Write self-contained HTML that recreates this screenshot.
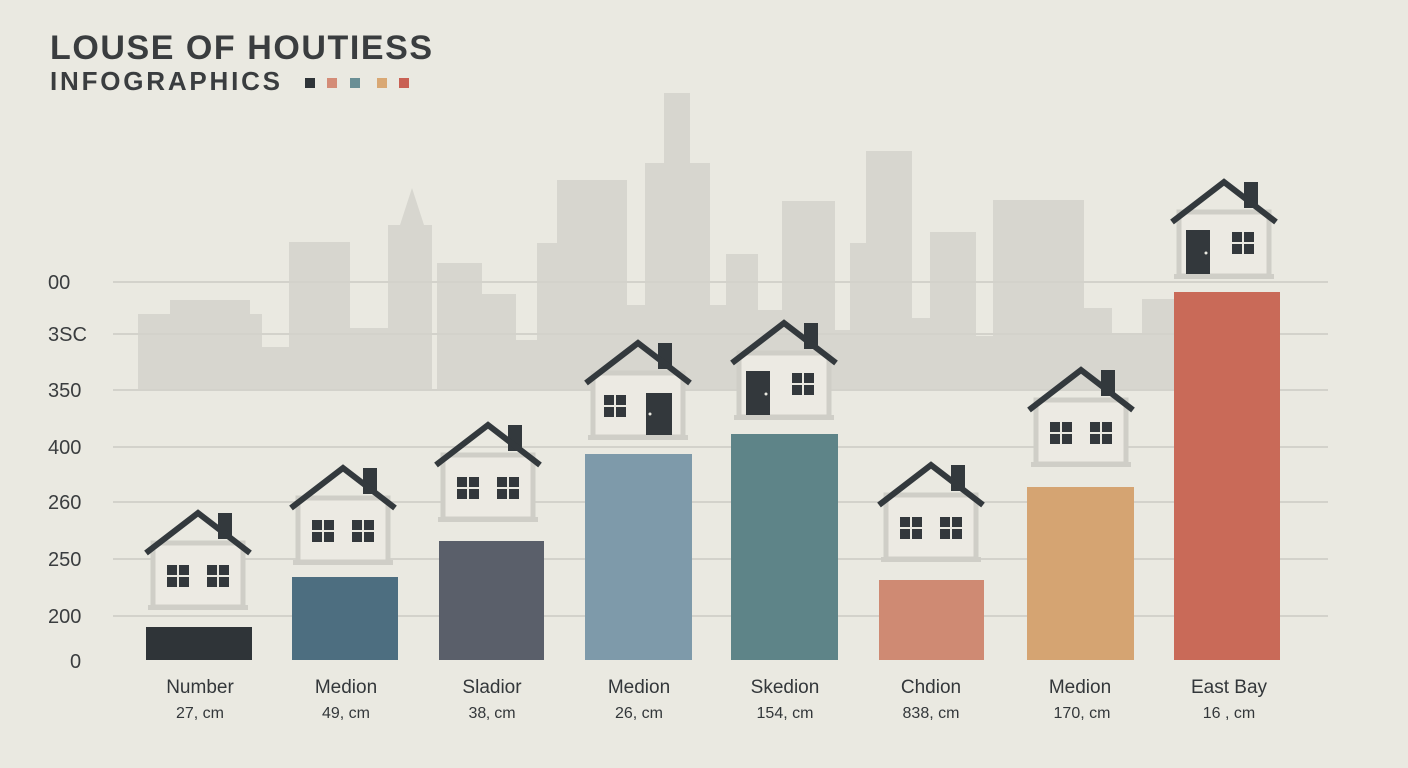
<!DOCTYPE html>
<html><head><meta charset="utf-8"><style>
html,body{margin:0;padding:0;background:#eae9e1;}
svg{display:block;font-family:"Liberation Sans",sans-serif;}
</style></head><body>
<svg width="1408" height="768" viewBox="0 0 1408 768">
<defs>
<g id="win"><rect x="0" y="0" width="22" height="22" fill="#33383c"/><rect x="10" y="0" width="2" height="22" fill="#eae9e1"/><rect x="0" y="10" width="22" height="2" fill="#eae9e1"/></g>
<g id="hbase">
<rect x="-45" y="32" width="90" height="64" fill="#eceae3" stroke="#cfcec7" stroke-width="5"/>
<rect x="-50" y="94" width="100" height="5" fill="#cfcec7"/>
<rect x="20" y="2" width="14" height="26" fill="#33393d"/>
<polyline points="-52,42 0,2 52,42" fill="none" stroke="#33393d" stroke-width="6"/>
</g>
<g id="h2"><use href="#hbase"/><use href="#win" x="-31" y="54"/><use href="#win" x="9" y="54"/></g>
<g id="hdl"><use href="#hbase"/><rect x="-38" y="50" width="24" height="44" fill="#33383c"/><circle cx="-18" cy="73" r="1.5" fill="#eae9e1"/><use href="#win" x="8" y="52"/></g>
<g id="hwd"><use href="#hbase"/><use href="#win" x="-34" y="54"/><rect x="8" y="52" width="26" height="42" fill="#33383c"/><circle cx="12" cy="73" r="1.5" fill="#eae9e1"/></g>
</defs>
<rect width="1408" height="768" fill="#eae9e1"/>
<g fill="#d7d6cf">
<rect x="138" y="314" width="124" height="76"/><rect x="170" y="300" width="80" height="20"/>
<rect x="262" y="347" width="28" height="43"/><rect x="289" y="242" width="61" height="148"/>
<rect x="350" y="328" width="40" height="62"/><rect x="388" y="225" width="44" height="165"/>
<polygon points="400,225 412,188 424,225"/><rect x="437" y="263" width="45" height="127"/>
<rect x="482" y="294" width="34" height="96"/><rect x="516" y="340" width="21" height="50"/>
<rect x="537" y="243" width="20" height="147"/><rect x="557" y="180" width="70" height="210"/>
<rect x="627" y="305" width="18" height="85"/><rect x="645" y="163" width="65" height="227"/>
<rect x="664" y="93" width="26" height="80"/><rect x="710" y="305" width="16" height="85"/>
<rect x="726" y="254" width="32" height="136"/><rect x="758" y="310" width="24" height="80"/>
<rect x="782" y="201" width="53" height="189"/><rect x="835" y="330" width="15" height="60"/>
<rect x="850" y="243" width="16" height="147"/><rect x="866" y="151" width="46" height="239"/>
<rect x="912" y="318" width="18" height="72"/><rect x="930" y="232" width="46" height="158"/>
<rect x="976" y="336" width="17" height="54"/><rect x="993" y="200" width="91" height="190"/>
<rect x="1084" y="308" width="28" height="82"/><rect x="1112" y="334" width="30" height="56"/>
<rect x="1142" y="299" width="33" height="91"/>
</g>
<g stroke="#d3d2cb" stroke-width="2">
<line x1="113" y1="282" x2="1328" y2="282"/><line x1="113" y1="334" x2="1328" y2="334"/>
<line x1="113" y1="390" x2="1328" y2="390"/><line x1="113" y1="447" x2="1328" y2="447"/>
<line x1="113" y1="502" x2="1328" y2="502"/><line x1="113" y1="559" x2="1328" y2="559"/>
<line x1="113" y1="616" x2="1328" y2="616"/>
</g>
<g font-size="20" fill="#3a3d3f">
<text x="48" y="289">00</text><text x="48" y="341">3SC</text><text x="48" y="397">350</text>
<text x="48" y="454">400</text><text x="48" y="509">260</text><text x="48" y="566">250</text>
<text x="48" y="623">200</text><text x="70" y="668">0</text>
</g>
<rect x="146" y="627" width="106" height="33" fill="#2f3438"/>
<rect x="292" y="577" width="106" height="83" fill="#4d6e80"/>
<rect x="439" y="541" width="105" height="119" fill="#5a5f6a"/>
<rect x="585" y="454" width="107" height="206" fill="#7e9aaa"/>
<rect x="731" y="434" width="107" height="226" fill="#5e8488"/>
<rect x="879" y="580" width="105" height="80" fill="#cf8a73"/>
<rect x="1027" y="487" width="107" height="173" fill="#d5a472"/>
<rect x="1174" y="292" width="106" height="368" fill="#c96a58"/>
<use href="#h2" x="198" y="511"/>
<use href="#h2" x="343" y="466"/>
<use href="#h2" x="488" y="423"/>
<use href="#hwd" x="638" y="341"/>
<use href="#hdl" x="784" y="321"/>
<use href="#h2" x="931" y="463"/>
<use href="#h2" x="1081" y="368"/>
<use href="#hdl" x="1224" y="180"/>
<g font-size="19" fill="#33373a" text-anchor="middle">
<text x="200" y="693">Number</text><text x="346" y="693">Medion</text><text x="492" y="693">Sladior</text>
<text x="639" y="693">Medion</text><text x="785" y="693">Skedion</text><text x="931" y="693">Chdion</text>
<text x="1080" y="693">Medion</text><text x="1229" y="693">East Bay</text>
</g>
<g font-size="16" fill="#33373a" text-anchor="middle">
<text x="200" y="718">27, cm</text><text x="346" y="718">49, cm</text><text x="492" y="718">38‚ cm</text>
<text x="639" y="718">26, cm</text><text x="785" y="718">154, cm</text><text x="931" y="718">838, cm</text>
<text x="1082" y="718">170, cm</text><text x="1229" y="718">16 , cm</text>
</g>
<text x="50" y="59" font-size="34" font-weight="bold" fill="#3a3d3f" textLength="382" lengthAdjust="spacing">LOUSE OF HOUTIESS</text>
<text x="50" y="90" font-size="26" font-weight="bold" fill="#3a3d3f" textLength="230" lengthAdjust="spacing">INFOGRAPHICS</text>
<rect x="305" y="78" width="10" height="10" fill="#2f3438"/>
<rect x="327" y="78" width="10" height="10" fill="#d48c77"/>
<rect x="350" y="78" width="10" height="10" fill="#6a8f95"/>
<rect x="377" y="78" width="10" height="10" fill="#d9a874"/>
<rect x="399" y="78" width="10" height="10" fill="#c96154"/>
</svg>
</body></html>
